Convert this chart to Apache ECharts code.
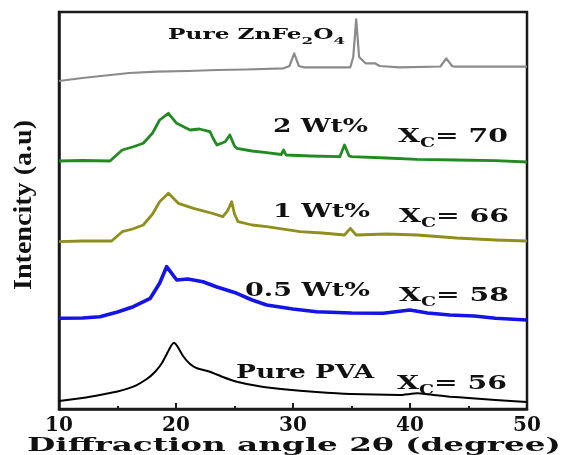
<!DOCTYPE html>
<html>
<head>
<meta charset="utf-8">
<script src="https://cdn.jsdelivr.net/npm/echarts@6/dist/echarts.min.js"></script>
<style>html,body{margin:0;padding:0;background:#fff;}#chart{width:564px;height:455px;}</style>
</head>
<body>
<div id="chart"></div>
<script>
// ---- data (2θ in degrees, intensity in arbitrary stacked units) ----
const xTicks = [10, 20, 30, 40, 50];

const pureZnFe2O4 = [[10,328],[12,331],[14,333.5],[16,336],[18.35,337.3],[21,338],[23.5,339],[26,339.5],[29.2,340.7],[29.7,343],[30.1,355.7],[30.5,343],[30.9,341.7],[34.9,341.7],[35.15,352],[35.4,389.7],[35.65,352],[36.2,345.7],[37.0,345.7],[37.4,343],[39.1,341.7],[42.6,342.5],[43.1,350.7],[43.6,343],[43.85,342.3],[47.1,342.3],[50,342.3]];

const wt2 = [[10,248],[12,248.5],[14.36,248],[15.4,259],[16.3,262],[17.2,265.7],[18.0,276],[18.6,289],[19.35,295.7],[20.06,285.7],[21.2,279],[22.0,280],[22.9,277.3],[23.2,270],[23.5,264],[24.2,267.3],[24.6,274],[25.0,263],[25.2,260.7],[26.5,258],[27.75,256.3],[29.0,254.5],[29.2,259],[29.4,254],[31.5,253],[34.0,252.3],[34.4,264],[34.8,253],[35.0,252.3],[38,251],[40.6,249.7],[44,249],[47.3,248.3],[50,247]];

const wt1 = [[10,167.3],[12,168],[14.5,168],[15.4,177.3],[16.3,180],[17.2,184],[18.0,195],[18.6,207.3],[19.35,215.7],[20.2,205.7],[21.5,200.7],[23.0,196],[24.0,192.3],[24.4,198],[24.76,207.3],[25.0,195],[25.3,187.3],[26.5,184],[27.75,182.3],[30.6,177.3],[32.5,176],[34.4,174],[34.9,180.7],[35.4,174],[38,175],[40.6,174],[44,171],[47.3,169],[50,168]];

const wt05 = [[10,90.7],[12,91],[13.5,92.3],[15,97],[16.35,102.3],[17.8,110.7],[18.6,125.7],[19.2,142.3],[20.06,129],[21,130],[22.3,127.3],[23.5,122],[25.2,115.7],[26.5,109],[27.75,104],[30,100],[32.0,97.3],[35,96],[37.7,95.7],[40.0,99],[41.5,96],[43.4,94],[45.5,93],[47.3,90.7],[50,89]];

const purePVA = [[10,8],[12,11],[13.5,14],[15,17.5],[16.35,22.3],[17.5,30],[18.2,37],[18.8,46],[19.3,57],[19.6,63.5],[19.83,66.3],[20.1,63],[20.6,53],[21.2,45],[21.8,40.7],[22.9,37.3],[24,32],[25.2,27.3],[27,23],[29.2,19.7],[32,17],[34.9,15],[39.1,14],[40.6,15.7],[42,14],[43.4,12.3],[45,11],[47.3,9],[50,7]];

const sampleNames = ['Pure ZnFe2O4', '2 Wt%', '1 Wt%', '0.5 Wt%', 'Pure PVA'];
const crystallinity = [null, 70, 66, 58, 56];

// ---- rendering ----
const chart = echarts.init(document.getElementById('chart'));
const ctx = document.createElement('canvas').getContext('2d');
const SERIF = 'DejaVu Serif';
function tw(str, size, family) { ctx.font = 'bold ' + size + 'px "' + family + '"'; return ctx.measureText(str).width; }

function richLabel(parts, left, cy, right, size, subSize) {
  let w = 0, text = '';
  parts.forEach(function (p) {
    const sub = p[1];
    w += tw(p[0], sub ? subSize : size, SERIF);
    text += '{' + (sub ? 's' : 'm') + '|' + p[0] + '}';
  });
  return {
    type: 'text', x: left, y: cy, scaleX: (right - left) / w, z: 100,
    style: {
      text: text, textAlign: 'left', textVerticalAlign: 'middle', align: 'left', verticalAlign: 'middle', fill: '#111',
      rich: {
        m: { fontSize: size, fontFamily: SERIF, fontWeight: 'bold', fill: '#111', lineHeight: size + 8, verticalAlign: 'middle' },
        s: { fontSize: subSize, fontFamily: SERIF, fontWeight: 'bold', fill: '#111', lineHeight: subSize, verticalAlign: 'bottom' }
      }
    }
  };
}
function xcLabel(v, left, cy) {
  return richLabel([['X', false], ['C', true], ['= ' + v, false]], left, cy, left + 110, 18, 12);
}
function plainLabel(str, left, right, cy, size) {
  return richLabel([[str, false]], left, cy, right, size, 12);
}

const xTitle = 'Diffraction angle 2θ (degree)';
const yTitle = 'Intencity (a.u)';
const xTitleSize = 19, yTitleSize = 25;

const graphics = [
  richLabel([['Pure ZnFe', false], ['2', true], ['O', false], ['4', true]], 168, 35, 345, 14, 10),
  plainLabel(sampleNames[1], 273, 368, 127, 18), xcLabel(crystallinity[1], 398, 137),
  plainLabel(sampleNames[2], 273, 370, 212, 18), xcLabel(crystallinity[2], 399, 217),
  plainLabel(sampleNames[3], 245, 370, 291, 18), xcLabel(crystallinity[3], 399, 296),
  plainLabel(sampleNames[4], 236, 374, 373, 18), xcLabel(crystallinity[4], 397, 384),
  {
    type: 'text', x: 294, y: 446, z: 100, scaleX: 534 / tw(xTitle, xTitleSize, SERIF),
    style: { text: xTitle, font: 'bold ' + xTitleSize + 'px "DejaVu Serif"', fill: '#111', textAlign: 'center', textVerticalAlign: 'middle', align: 'center', verticalAlign: 'middle' }
  },
  {
    type: 'text', x: 25, y: 205, z: 100, rotation: Math.PI / 2, scaleX: 170 / tw(yTitle, yTitleSize, 'Liberation Serif'),
    style: { text: yTitle, font: 'bold ' + yTitleSize + 'px "Liberation Serif"', fill: '#111', textAlign: 'center', textVerticalAlign: 'middle', align: 'center', verticalAlign: 'middle' }
  }
];

function line(name, data, color, width, smooth) {
  return { name: name, type: 'line', data: data, showSymbol: false, symbol: 'none', smooth: smooth || false,
    lineStyle: { color: color, width: width, join: 'round' }, itemStyle: { color: color }, animation: false, z: 3 };
}

chart.setOption({
  animation: false,
  backgroundColor: '#fff',
  grid: { left: 59, right: 37, top: 12, bottom: 46, show: true, borderColor: '#1a1a1a', borderWidth: 2.5, backgroundColor: 'transparent' },
  xAxis: {
    type: 'value', min: xTicks[0], max: xTicks[xTicks.length - 1], interval: 10,
    axisLine: { show: true, lineStyle: { color: '#1a1a1a', width: 2.5 } },
    axisTick: { show: true, inside: true, length: 6, lineStyle: { color: '#1a1a1a', width: 2 } },
    minorTick: { show: true, splitNumber: 2, length: 3, lineStyle: { color: '#1a1a1a', width: 2 } },
    splitLine: { show: false },
    axisLabel: { margin: 7, color: '#111', fontSize: 20, fontWeight: 'bold', fontFamily: 'DejaVu Serif' }
  },
  yAxis: {
    type: 'value', min: 0, max: 397,
    axisLine: { show: true, lineStyle: { color: '#1a1a1a', width: 2.5 } },
    axisTick: { show: false }, axisLabel: { show: false }, splitLine: { show: false }
  },
  series: [
    line(sampleNames[0], pureZnFe2O4, '#8a8a8a', 2.2),
    line(sampleNames[1], wt2, '#218a21', 2.8),
    line(sampleNames[2], wt1, '#8f8f1c', 2.8),
    line(sampleNames[3], wt05, '#1414e6', 3.6),
    line(sampleNames[4], purePVA, '#000000', 2, 0.15)
  ],
  graphic: graphics
});
</script>
</body>
</html>
